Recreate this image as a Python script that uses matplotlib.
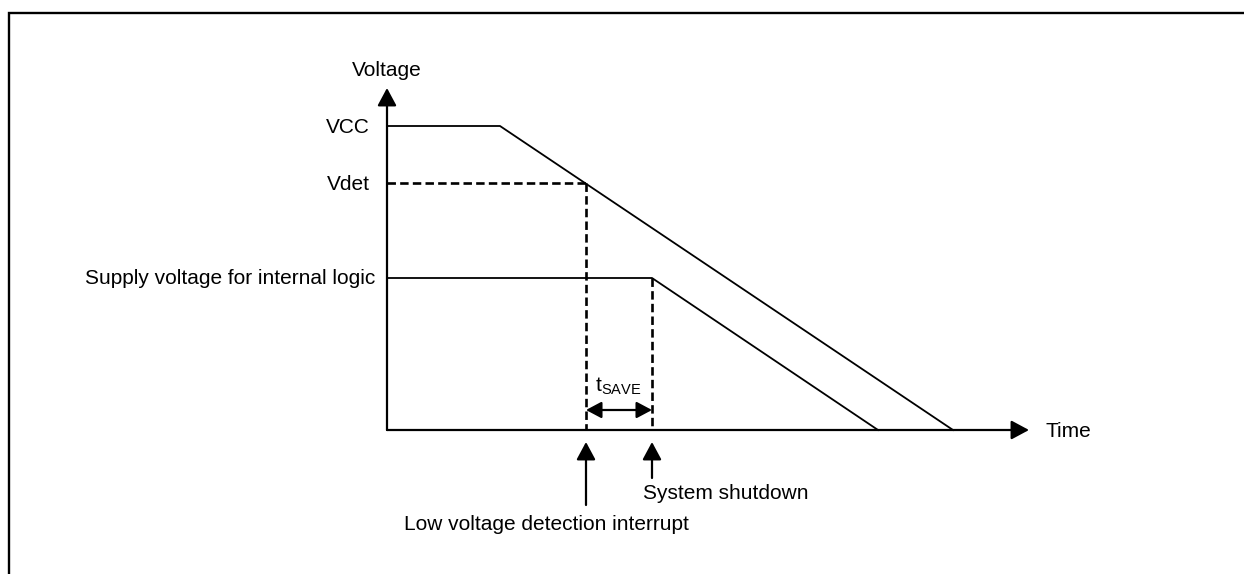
# Low voltage detection timing: VCC and internal logic supply vs time
import matplotlib.pyplot as plt
from matplotlib.patches import Rectangle

plt.rcParams['font.family'] = ['Liberation Sans', 'DejaVu Sans']

## time points (schematic units, origin at the axes corner)
t_vcc_fall = 113      # VCC starts to drop
t_det = 199           # VCC crosses Vdet -> interrupt
t_shutdown = 265      # system shutdown, logic supply starts to drop
t_logic_zero = 491
t_vcc_zero = 566
t_axis_end = 642

## voltage levels
vcc = 304
vdet = 247
vlogic = 152
v_axis_end = 342

vcc_t = [0, t_vcc_fall, t_vcc_zero]
vcc_v = [vcc, vcc, 0]
logic_t = [0, t_shutdown, t_logic_zero]
logic_v = [vlogic, vlogic, 0]

fig = plt.figure(figsize=(12.44, 5.74), dpi=100)
ax = fig.add_axes([0, 0, 1, 1])
ax.set_xlim(-387, 857)
ax.set_ylim(-144, 430)
ax.axis('off')

# frame (only top and left edges are visible)
ax.add_patch(Rectangle((-378, -300), 2000, 717, fill=False, lw=1.7, ec='black'))

fs = 15
head = 'head_length=1.08,head_width=0.58'

# axes with arrows
ax.annotate('', xy=(0, v_axis_end), xytext=(0, 0),
            arrowprops=dict(arrowstyle='-|>,' + head, lw=1.6, color='black',
                            shrinkA=0, shrinkB=0, mutation_scale=10))
ax.annotate('', xy=(t_axis_end, 0), xytext=(0, 0),
            arrowprops=dict(arrowstyle='-|>,' + head, lw=1.6, color='black',
                            shrinkA=0, shrinkB=0, mutation_scale=10))

# supply curves
ax.plot(vcc_t, vcc_v, color='black', lw=1.3)
ax.plot(logic_t, logic_v, color='black', lw=1.3)

# dashed guides
dash = (0, (3.2, 1.6))
ax.plot([0, t_det], [vdet, vdet], color='black', lw=1.9, linestyle=dash)
ax.plot([t_det, t_det], [vdet, 0], color='black', lw=1.9, linestyle=dash)
ax.plot([t_shutdown, t_shutdown], [vlogic, 0], color='black', lw=1.9, linestyle=dash)

# t_SAVE dimension arrow
ax.annotate('', xy=(t_shutdown, 20), xytext=(t_det, 20),
            arrowprops=dict(arrowstyle='<|-|>,head_length=0.94,head_width=0.5', lw=1.6,
                            color='black', shrinkA=0, shrinkB=0, mutation_scale=10))
ax.text(t_det + 9, 39, r't$_\mathregular{SAVE}$', fontsize=fs, ha='left', va='baseline')

# event arrows
ax.annotate('', xy=(t_det, -12), xytext=(t_det, -75),
            arrowprops=dict(arrowstyle='-|>,' + head, lw=1.6, color='black',
                            shrinkA=0, shrinkB=0, mutation_scale=10))
ax.annotate('', xy=(t_shutdown, -12), xytext=(t_shutdown, -48),
            arrowprops=dict(arrowstyle='-|>,' + head, lw=1.6, color='black',
                            shrinkA=0, shrinkB=0, mutation_scale=10))

# labels
ax.text(0, 354, 'Voltage', fontsize=fs, ha='center', va='baseline')
ax.text(658, -7, 'Time', fontsize=fs, ha='left', va='baseline')
ax.text(-17, vcc - 7, 'VCC', fontsize=fs, ha='right', va='baseline')
ax.text(-17, vdet - 7.5, 'Vdet', fontsize=fs, ha='right', va='baseline')
ax.text(-12, vlogic - 6.5, 'Supply voltage for internal logic', fontsize=fs, ha='right', va='baseline')
ax.text(t_shutdown - 9, -69, 'System shutdown', fontsize=fs, ha='left', va='baseline')
ax.text(t_det - 182, -100, 'Low voltage detection interrupt', fontsize=fs, ha='left', va='baseline')

plt.savefig('out.png', dpi=100)
